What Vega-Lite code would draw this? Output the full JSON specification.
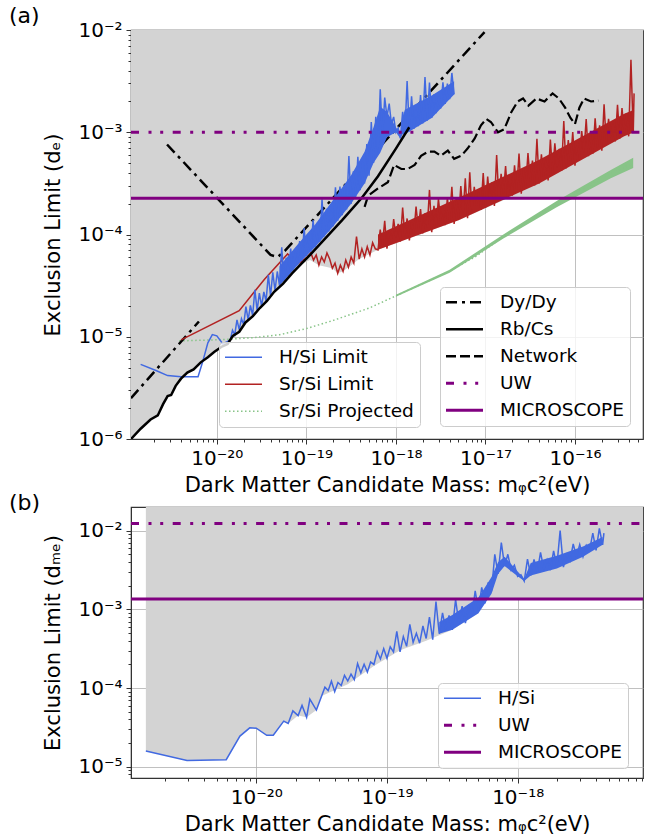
{
"$schema": "https://vega.github.io/schema/vega-lite/v6.json",
"padding": {"left": 8, "top": 4, "right": 2, "bottom": 0},
"spacing": -5,
"resolve": {"scale": {"x": "independent", "y": "independent", "color": "independent", "stroke": "independent"}, "legend": {"color": "independent", "stroke": "independent"}},
"config": {
  "font": "DejaVu Sans",
  "view": {"stroke": "#333333", "strokeWidth": 1.2},
  "axis": {"labelFont": "DejaVu Sans", "labelFontSize": 20, "labelColor": "#000000", "titleFont": "DejaVu Sans", "titleFontSize": 21, "titleFontWeight": "normal", "titleColor": "#000000", "tickColor": "#333333", "tickSize": 5, "domainColor": "#333333", "grid": true, "gridColor": "#b0b0b0", "gridWidth": 0.8, "zindex": 1, "labelPadding": 4},
  "legend": {"labelFont": "DejaVu Sans", "labelFontSize": 18.5, "labelColor": "#000000"},
  "title": {"font": "DejaVu Sans", "fontSize": 22, "fontWeight": "normal", "anchor": "start", "frame": "group", "offset": -8, "color": "#000000"}
},
"datasets": {
  "grayA": [{"x":1.1e-21,"y":1.0e-6},{"x":1.41e-21,"y":1.26e-6},{"x":1.82e-21,"y":1.55e-6},{"x":2.19e-21,"y":1.70e-6},{"x":2.51e-21,"y":2.19e-6},{"x":2.82e-21,"y":2.63e-6},{"x":3.09e-21,"y":2.69e-6},{"x":3.47e-21,"y":3.31e-6},{"x":3.98e-21,"y":3.89e-6},{"x":4.68e-21,"y":4.47e-6},{"x":5.50e-21,"y":4.79e-6},{"x":6.61e-21,"y":5.62e-6},{"x":7.94e-21,"y":6.31e-6},{"x":9.33e-21,"y":7.08e-6},{"x":1.12e-20,"y":7.94e-6},{"x":1.32e-20,"y":8.51e-6},{"x":1.51e-20,"y":1.02e-5},{"x":1.78e-20,"y":1.12e-5},{"x":2.09e-20,"y":1.38e-5},{"x":2.51e-20,"y":1.58e-5},{"x":3.02e-20,"y":1.91e-5},{"x":3.63e-20,"y":2.24e-5},{"x":4.37e-20,"y":2.75e-5},{"x":5.50e-20,"y":3.31e-5},{"x":6.92e-20,"y":4.17e-5},{"x":8.71e-20,"y":5.13e-5},{"x":1.096e-19,"y":5.623e-5},{"x":1.380e-19,"y":5.012e-5},{"x":1.950e-19,"y":4.677e-5},{"x":2.239e-19,"y":4.169e-5},{"x":2.570e-19,"y":4.365e-5},{"x":2.951e-19,"y":4.786e-5},{"x":3.890e-19,"y":5.754e-5},{"x":6.310e-19,"y":7.079e-5},{"x":5.012e-18,"y":1.380e-4},{"x":1.778e-17,"y":2.26e-4},{"x":5.75e-16,"y":2.26e-4}],
  "rbcs": [{"x":1.1e-21,"y":1.0e-6},{"x":1.41e-21,"y":1.26e-6},{"x":1.82e-21,"y":1.55e-6},{"x":2.19e-21,"y":1.70e-6},{"x":2.51e-21,"y":2.19e-6},{"x":2.82e-21,"y":2.63e-6},{"x":3.09e-21,"y":2.69e-6},{"x":3.47e-21,"y":3.31e-6},{"x":3.98e-21,"y":3.89e-6},{"x":4.68e-21,"y":4.47e-6},{"x":5.50e-21,"y":4.79e-6},{"x":6.61e-21,"y":5.62e-6},{"x":7.94e-21,"y":6.31e-6},{"x":9.33e-21,"y":7.08e-6},{"x":1.12e-20,"y":7.94e-6},{"x":1.32e-20,"y":8.51e-6},{"x":1.51e-20,"y":1.02e-5},{"x":1.78e-20,"y":1.12e-5},{"x":2.09e-20,"y":1.38e-5},{"x":2.51e-20,"y":1.58e-5},{"x":3.02e-20,"y":1.91e-5},{"x":3.63e-20,"y":2.24e-5},{"x":4.37e-20,"y":2.75e-5},{"x":5.50e-20,"y":3.31e-5},{"x":6.92e-20,"y":4.17e-5},{"x":8.71e-20,"y":5.13e-5},{"x":1.10e-19,"y":6.31e-5},{"x":1.58e-19,"y":8.91e-5},{"x":2.51e-19,"y":1.38e-4},{"x":4.17e-19,"y":2.29e-4},{"x":6.31e-19,"y":3.72e-4},{"x":1.0e-18,"y":6.92e-4},{"x":1.41e-18,"y":1.12e-3}],
  "dydy": [{"x":1.1e-21,"y":2.51e-6,"seg":1},{"x":6.31e-21,"y":1.41e-5,"seg":1},{"x":2.78e-21,"y":7.59e-4,"seg":2},{"x":3.98e-20,"y":6.31e-5,"seg":2},{"x":4.79e-20,"y":6.03e-5,"seg":2},{"x":5.75e-20,"y":6.92e-5,"seg":2},{"x":9.77e-18,"y":9.55e-3,"seg":2}],
  "network": [{"x":4.47e-19,"y":1.86e-4},{"x":4.90e-19,"y":2.40e-4},{"x":6.31e-19,"y":2.82e-4},{"x":8.13e-19,"y":3.24e-4},{"x":9.55e-19,"y":4.79e-4},{"x":1.15e-18,"y":4.37e-4},{"x":1.35e-18,"y":4.37e-4},{"x":1.62e-18,"y":4.79e-4},{"x":1.91e-18,"y":5.89e-4},{"x":2.29e-18,"y":6.46e-4},{"x":2.69e-18,"y":6.46e-4},{"x":3.16e-18,"y":5.89e-4},{"x":3.80e-18,"y":6.61e-4},{"x":4.47e-18,"y":5.50e-4},{"x":5.37e-18,"y":5.89e-4},{"x":6.31e-18,"y":6.92e-4},{"x":7.59e-18,"y":8.71e-4},{"x":8.91e-18,"y":1.17e-3},{"x":1.02e-17,"y":1.35e-3},{"x":1.15e-17,"y":1.26e-3},{"x":1.38e-17,"y":1.0e-3},{"x":1.62e-17,"y":1.07e-3},{"x":1.95e-17,"y":1.58e-3},{"x":2.29e-17,"y":2.0e-3},{"x":2.63e-17,"y":2.14e-3},{"x":3.02e-17,"y":1.82e-3},{"x":3.72e-17,"y":2.14e-3},{"x":4.57e-17,"y":2.0e-3},{"x":5.62e-17,"y":2.40e-3},{"x":6.61e-17,"y":2.14e-3},{"x":7.76e-17,"y":1.74e-3},{"x":8.91e-17,"y":1.38e-3},{"x":1.0e-16,"y":1.20e-3},{"x":1.12e-16,"y":1.74e-3},{"x":1.26e-16,"y":2.14e-3},{"x":1.51e-16,"y":2.0e-3},{"x":1.82e-16,"y":2.04e-3}],
  "green": [{"x":3.80e-21,"y":9.12e-6},{"x":1.0e-20,"y":9.33e-6},{"x":2.512e-20,"y":9.77e-6},{"x":5.012e-20,"y":1.047e-5},{"x":1.0e-19,"y":1.202e-5},{"x":1.995e-19,"y":1.445e-5},{"x":5.012e-19,"y":1.905e-5},{"x":1.0e-18,"y":2.512e-5},{"x":1.995e-18,"y":3.311e-5},{"x":3.981e-18,"y":4.365e-5},{"x":7.943e-18,"y":6.166e-5},{"x":1.585e-17,"y":9.55e-5},{"x":3.162e-17,"y":1.380e-4},{"x":6.310e-17,"y":1.995e-4},{"x":1.259e-16,"y":2.818e-4},{"x":2.512e-16,"y":3.890e-4},{"x":4.467e-16,"y":5.012e-4}],
  "greenBand": [{"x":1.0e-18,"y":2.455e-5,"y2":2.570e-5},{"x":3.981e-18,"y":4.217e-5,"y2":4.519e-5},{"x":1.585e-17,"y":9.120e-5,"y2":1.0e-4},{"x":6.310e-17,"y":1.862e-4,"y2":2.138e-4},{"x":2.512e-16,"y":3.548e-4,"y2":4.266e-4},{"x":4.467e-16,"y":4.467e-4,"y2":5.623e-4}],
  "hsiBandA": [{"x":5.012e-20,"y":3.162e-5,"y2":4.898e-5},{"x":7.943e-20,"y":5.012e-5,"y2":7.943e-5},{"x":1.259e-19,"y":7.586e-5,"y2":1.259e-4},{"x":1.995e-19,"y":1.202e-4,"y2":2.188e-4},{"x":3.162e-19,"y":1.995e-4,"y2":3.802e-4},{"x":4.467e-19,"y":3.162e-4,"y2":6.457e-4},{"x":5.623e-19,"y":5.012e-4,"y2":1.122e-3},{"x":6.683e-19,"y":6.310e-4,"y2":1.778e-3},{"x":7.943e-19,"y":8.913e-4,"y2":1.585e-3},{"x":1.0e-18,"y":1.0e-3,"y2":1.122e-3},{"x":1.122e-18,"y":8.71e-4,"y2":9.55e-4},{"x":1.189e-18,"y":9.55e-4,"y2":1.413e-3},{"x":1.259e-18,"y":9.55e-4,"y2":1.660e-3},{"x":2.512e-18,"y":1.380e-3,"y2":2.291e-3},{"x":4.467e-18,"y":2.344e-3,"y2":3.162e-3}],
  "srBand": [{"x":6.310e-19,"y":7.079e-5,"y2":1.0e-4},{"x":5.012e-18,"y":1.380e-4,"y2":2.291e-4},{"x":3.981e-17,"y":3.162e-4,"y2":5.370e-4},{"x":3.548e-16,"y":9.120e-4,"y2":1.514e-3},{"x":4.571e-16,"y":1.0e-3,"y2":1.660e-3}],
  "hsiA": [{"x":1.41e-21,"y":5.37e-6},{"x":2.09e-21,"y":4.68e-6},{"x":2.82e-21,"y":4.17e-6},{"x":3.98e-21,"y":4.07e-6},{"x":6.17e-21,"y":4.07e-6},{"x":6.92e-21,"y":5.62e-6},{"x":7.94e-21,"y":8.71e-6},{"x":8.91e-21,"y":1.05e-5},{"x":1.0e-20,"y":1.02e-5},{"x":1.17e-20,"y":8.51e-6},
    {"x":1.413e-20,"y":9.33e-6},{"x":1.496e-20,"y":1.161e-5},{"x":1.585e-20,"y":1.047e-5},{"x":1.679e-20,"y":1.462e-5},{"x":1.778e-20,"y":1.175e-5},{"x":1.884e-20,"y":1.500e-5},{"x":1.995e-20,"y":1.318e-5},{"x":2.113e-20,"y":1.968e-5},{"x":2.239e-20,"y":1.462e-5},{"x":2.371e-20,"y":2.023e-5},{"x":2.512e-20,"y":1.622e-5},{"x":2.661e-20,"y":2.884e-5},{"x":2.818e-20,"y":1.799e-5},{"x":2.985e-20,"y":2.667e-5},{"x":3.162e-20,"y":1.995e-5},{"x":3.350e-20,"y":2.748e-5},{"x":3.548e-20,"y":2.239e-5},{"x":3.758e-20,"y":4.027e-5},{"x":3.981e-20,"y":2.512e-5},{"x":4.217e-20,"y":4.276e-5},{"x":4.467e-20,"y":2.818e-5},{"x":4.732e-20,"y":4.35e-5},{"x":5.012e-20,"y":3.162e-5},{"x":5.309e-20,"y":7.499e-5},{"x":5.623e-20,"y":3.548e-5},{"x":5.957e-20,"y":5.902e-5},{"x":6.310e-20,"y":3.981e-5},{"x":6.683e-20,"y":7.295e-5},{"x":7.079e-20,"y":4.467e-5},{"x":7.499e-20,"y":6.745e-5},{"x":7.943e-20,"y":5.012e-5},{"x":8.414e-20,"y":8.63e-5},{"x":8.913e-20,"y":5.559e-5},{"x":9.441e-20,"y":1.155e-4},{"x":1.0e-19,"y":6.166e-5},{"x":1.059e-19,"y":9.55e-5},{"x":1.122e-19,"y":6.839e-5},{"x":1.189e-19,"y":1.384e-4},{"x":1.259e-19,"y":7.586e-5},{"x":1.334e-19,"y":1.318e-4},{"x":1.413e-19,"y":8.511e-5},{"x":1.496e-19,"y":2.213e-4},{"x":1.585e-19,"y":9.55e-5},{"x":1.679e-19,"y":1.782e-4},{"x":1.778e-19,"y":1.072e-4},{"x":1.884e-19,"y":1.726e-4},{"x":1.995e-19,"y":1.202e-4},{"x":2.113e-19,"y":2.897e-4},{"x":2.239e-19,"y":1.365e-4},{"x":2.371e-19,"y":2.938e-4},{"x":2.512e-19,"y":1.549e-4},{"x":2.661e-19,"y":2.825e-4},{"x":2.818e-19,"y":1.758e-4},{"x":2.985e-19,"y":5.861e-4},{"x":3.162e-19,"y":1.995e-4},{"x":3.350e-19,"y":4.159e-4},{"x":3.548e-19,"y":2.328e-4},{"x":3.758e-19,"y":5.768e-4},{"x":3.981e-19,"y":2.710e-4},{"x":4.217e-19,"y":5.129e-4},{"x":4.467e-19,"y":3.162e-4},{"x":4.732e-19,"y":7.674e-4},{"x":5.012e-19,"y":3.758e-4},{"x":5.309e-19,"y":1.259e-3},{"x":5.623e-19,"y":5.012e-4},{"x":5.957e-19,"y":1.413e-3},{"x":6.310e-19,"y":6.310e-4},{"x":6.683e-19,"y":2.630e-3},{"x":7.079e-19,"y":8.913e-4},{"x":7.499e-19,"y":2.188e-3},{"x":7.943e-19,"y":1.413e-3},{"x":8.414e-19,"y":1.905e-3},{"x":8.913e-19,"y":1.202e-3},{"x":9.441e-19,"y":1.413e-3},{"x":1.0e-18,"y":1.0e-3},{"x":1.059e-18,"y":1.096e-3},{"x":1.122e-18,"y":8.71e-4},{"x":1.189e-18,"y":1.585e-3},{"x":1.259e-18,"y":9.55e-4},{"x":1.334e-18,"y":3.162e-3},{"x":1.413e-18,"y":1.016e-3},{"x":1.496e-18,"y":2.249e-3},{"x":1.585e-18,"y":1.079e-3},{"x":1.679e-18,"y":1.687e-3},{"x":1.778e-18,"y":1.148e-3},{"x":1.884e-18,"y":2.312e-3},{"x":1.995e-18,"y":1.222e-3},{"x":2.113e-18,"y":3.467e-3},{"x":2.239e-18,"y":1.297e-3},{"x":2.371e-18,"y":3.062e-3},{"x":2.512e-18,"y":1.380e-3},{"x":2.661e-18,"y":2.350e-3},{"x":2.818e-18,"y":1.535e-3},{"x":2.985e-18,"y":2.213e-3},{"x":3.162e-18,"y":1.706e-3},{"x":3.350e-18,"y":3.076e-3},{"x":3.548e-18,"y":1.897e-3},{"x":3.758e-18,"y":2.992e-3},{"x":3.981e-18,"y":2.109e-3},{"x":4.217e-18,"y":3.802e-3},{"x":4.467e-18,"y":2.344e-3}],
  "srsi": [{"x":3.98e-21,"y":9.33e-6},{"x":1.778e-20,"y":1.80e-5},{"x":3.39e-20,"y":3.63e-5},{"x":6.17e-20,"y":6.46e-5},{"x":7.94e-20,"y":5.13e-5},{"x":9.55e-20,"y":5.75e-5},
    {"x":1.023e-19,"y":6.026e-5},{"x":1.122e-19,"y":6.607e-5},{"x":1.202e-19,"y":5.623e-5},{"x":1.288e-19,"y":6.310e-5},{"x":1.380e-19,"y":5.012e-5},{"x":1.479e-19,"y":6.026e-5},{"x":1.585e-19,"y":5.370e-5},{"x":1.698e-19,"y":6.607e-5},{"x":1.820e-19,"y":5.754e-5},{"x":1.950e-19,"y":4.677e-5},{"x":2.089e-19,"y":5.248e-5},{"x":2.239e-19,"y":4.169e-5},{"x":2.399e-19,"y":5.012e-5},{"x":2.570e-19,"y":4.365e-5},{"x":2.754e-19,"y":5.623e-5},{"x":2.951e-19,"y":4.786e-5},{"x":3.162e-19,"y":6.026e-5},{"x":3.388e-19,"y":5.248e-5},{"x":3.631e-19,"y":9.550e-5},{"x":3.890e-19,"y":5.754e-5},{"x":4.169e-19,"y":7.244e-5},{"x":4.467e-19,"y":6.026e-5},{"x":4.786e-19,"y":7.586e-5},{"x":5.129e-19,"y":6.310e-5},{"x":5.495e-19,"y":8.318e-5},{"x":5.888e-19,"y":7.244e-5},
    {"x":6.310e-19,"y":7.079e-5},{"x":6.683e-19,"y":1.117e-4},{"x":7.079e-19,"y":8.054e-5},{"x":7.499e-19,"y":1.358e-4},{"x":7.943e-19,"y":7.278e-5},{"x":8.414e-19,"y":1.089e-4},{"x":8.913e-19,"y":8.299e-5},{"x":9.441e-19,"y":1.416e-4},{"x":1.0e-18,"y":9.441e-5},{"x":1.059e-18,"y":1.268e-4},{"x":1.122e-18,"y":8.531e-5},{"x":1.189e-18,"y":1.837e-4},{"x":1.259e-18,"y":9.705e-5},{"x":1.334e-18,"y":1.435e-4},{"x":1.413e-18,"y":8.770e-5},{"x":1.496e-18,"y":1.315e-4},{"x":1.585e-18,"y":9.977e-5},{"x":1.679e-18,"y":1.879e-4},{"x":1.778e-18,"y":1.135e-4},{"x":1.884e-18,"y":1.774e-4},{"x":1.995e-18,"y":1.026e-4},{"x":2.113e-18,"y":1.611e-4},{"x":2.239e-18,"y":1.167e-4},{"x":2.371e-18,"y":2.729e-4},{"x":2.512e-18,"y":1.054e-4},{"x":2.661e-18,"y":1.905e-4},{"x":2.818e-18,"y":1.202e-4},{"x":2.985e-18,"y":2.239e-4},{"x":3.162e-18,"y":1.368e-4},{"x":3.350e-18,"y":1.862e-4},{"x":3.548e-18,"y":1.236e-4},{"x":3.758e-18,"y":2.280e-4},{"x":3.981e-18,"y":1.406e-4},{"x":4.217e-18,"y":2.931e-4},{"x":4.467e-18,"y":1.271e-4},{"x":4.732e-18,"y":2.128e-4},{"x":5.012e-18,"y":1.445e-4},{"x":5.309e-18,"y":2.985e-4},{"x":5.623e-18,"y":1.585e-4},{"x":5.957e-18,"y":3.548e-4},{"x":6.310e-18,"y":1.445e-4},{"x":6.683e-18,"y":4.064e-4},{"x":7.079e-18,"y":1.660e-4},{"x":7.499e-18,"y":2.924e-4},{"x":7.943e-18,"y":1.905e-4},{"x":8.414e-18,"y":2.588e-4},{"x":8.913e-18,"y":1.738e-4},{"x":9.441e-18,"y":3.990e-4},{"x":1.0e-17,"y":1.820e-4},{"x":1.059e-17,"y":3.690e-4},{"x":1.122e-17,"y":2.089e-4},{"x":1.189e-17,"y":3.258e-4},{"x":1.259e-17,"y":1.905e-4},{"x":1.334e-17,"y":5.992e-4},{"x":1.413e-17,"y":2.188e-4},{"x":1.496e-17,"y":3.917e-4},{"x":1.585e-17,"y":2.512e-4},{"x":1.679e-17,"y":4.677e-4},{"x":1.778e-17,"y":2.291e-4},{"x":1.884e-17,"y":3.784e-4},{"x":1.995e-17,"y":2.399e-4},{"x":2.113e-17,"y":4.742e-4},{"x":2.239e-17,"y":2.754e-4},{"x":2.371e-17,"y":6.194e-4},{"x":2.512e-17,"y":2.512e-4},{"x":2.661e-17,"y":4.375e-4},{"x":2.818e-17,"y":2.884e-4},{"x":2.985e-17,"y":6.266e-4},{"x":3.162e-17,"y":3.311e-4},{"x":3.350e-17,"y":5.272e-4},{"x":3.548e-17,"y":3.020e-4},{"x":3.758e-17,"y":8.650e-4},{"x":3.981e-17,"y":3.162e-4},{"x":4.217e-17,"y":6.081e-4},{"x":4.467e-17,"y":3.664e-4},{"x":4.732e-17,"y":5.370e-4},{"x":5.012e-17,"y":3.373e-4},{"x":5.309e-17,"y":8.472e-4},{"x":5.623e-17,"y":3.917e-4},{"x":5.957e-17,"y":7.798e-4},{"x":6.310e-17,"y":4.539e-4},{"x":6.683e-17,"y":6.902e-4},{"x":7.079e-17,"y":4.178e-4},{"x":7.499e-17,"y":1.288e-3},{"x":7.943e-17,"y":4.416e-4},{"x":8.414e-17,"y":8.375e-4},{"x":8.913e-17,"y":5.117e-4},{"x":9.441e-17,"y":1.007e-3},{"x":1.0e-16,"y":4.721e-4},{"x":1.059e-16,"y":8.185e-4},{"x":1.122e-16,"y":5.470e-4},{"x":1.189e-16,"y":1.026e-3},{"x":1.259e-16,"y":6.339e-4},{"x":1.334e-16,"y":1.343e-3},{"x":1.413e-16,"y":5.834e-4},{"x":1.496e-16,"y":9.616e-4},{"x":1.585e-16,"y":6.166e-4},{"x":1.679e-16,"y":1.368e-3},{"x":1.778e-16,"y":7.161e-4},{"x":1.884e-16,"y":1.167e-3},{"x":1.995e-16,"y":6.592e-4},{"x":2.113e-16,"y":1.875e-3},{"x":2.239e-16,"y":7.638e-4},{"x":2.371e-16,"y":1.352e-3},{"x":2.512e-16,"y":8.851e-4},{"x":2.661e-16,"y":1.208e-3},{"x":2.818e-16,"y":8.147e-4},{"x":2.985e-16,"y":1.854e-3},{"x":3.162e-16,"y":8.630e-4},{"x":3.350e-16,"y":1.726e-3},{"x":3.548e-16,"y":1.0e-3},{"x":3.758e-16,"y":1.538e-3},{"x":3.981e-16,"y":9.120e-4},{"x":4.217e-16,"y":5.129e-3},{"x":4.467e-16,"y":1.0e-3},{"x":4.571e-16,"y":2.399e-3}],
  "uwA": [{"x":1.1e-21,"y":1.0e-3},{"x":5.75e-16,"y":1.0e-3}],
  "micA": [{"x":1.1e-21,"y":2.26e-4},{"x":5.75e-16,"y":2.26e-4}],
  "grayB": [{"x":1.429e-21,"y":1.585e-5},{"x":2.951e-21,"y":1.202e-5},{"x":5.888e-21,"y":1.230e-5},{"x":7.499e-21,"y":2.455e-5},{"x":8.913e-21,"y":3.126e-5},{"x":1.0e-20,"y":3.090e-5},{"x":1.202e-20,"y":2.512e-5},{"x":1.349e-20,"y":2.512e-5},{"x":1.622e-20,"y":3.802e-5},{"x":1.754e-20,"y":3.548e-5},{"x":2.089e-20,"y":4.467e-5},{"x":2.427e-20,"y":4.266e-5},{"x":2.884e-20,"y":5.248e-5},{"x":3.162e-20,"y":7.943e-5},{"x":5.012e-20,"y":1.122e-4},{"x":7.943e-20,"y":1.905e-4},{"x":1.259e-19,"y":3.020e-4},{"x":1.995e-19,"y":3.981e-4},{"x":3.162e-19,"y":5.495e-4},{"x":5.012e-19,"y":8.913e-4},{"x":5.370e-19,"y":1.36e-3},{"x":9.1e-18,"y":1.36e-3}],
  "hsiBandB": [{"x":2.512e-19,"y":4.898e-4,"y2":6.918e-4},{"x":3.162e-19,"y":5.495e-4,"y2":8.511e-4},{"x":5.012e-19,"y":8.913e-4,"y2":1.413e-3},{"x":6.310e-19,"y":1.585e-3,"y2":2.570e-3},{"x":7.079e-19,"y":2.818e-3,"y2":3.981e-3},{"x":7.943e-19,"y":3.548e-3,"y2":4.677e-3},{"x":1.0e-18,"y":2.630e-3,"y2":3.020e-3},{"x":1.122e-18,"y":2.291e-3,"y2":2.455e-3},{"x":1.259e-18,"y":2.692e-3,"y2":3.890e-3},{"x":1.995e-18,"y":3.311e-3,"y2":4.786e-3},{"x":3.162e-18,"y":4.677e-3,"y2":6.310e-3},{"x":4.467e-18,"y":6.607e-3,"y2":8.318e-3}],
  "hsiB": [{"x":1.429e-21,"y":1.585e-5},{"x":2.951e-21,"y":1.202e-5},{"x":5.888e-21,"y":1.230e-5},{"x":7.499e-21,"y":2.455e-5},{"x":8.913e-21,"y":3.126e-5},{"x":1.0e-20,"y":3.090e-5},{"x":1.202e-20,"y":2.512e-5},{"x":1.349e-20,"y":2.512e-5},{"x":1.622e-20,"y":3.802e-5},{"x":1.754e-20,"y":3.548e-5},{"x":1.905e-20,"y":5.129e-5},{"x":2.089e-20,"y":4.467e-5},{"x":2.239e-20,"y":6.026e-5},{"x":2.427e-20,"y":4.266e-5},{"x":2.570e-20,"y":7.244e-5},{"x":2.884e-20,"y":5.248e-5},
    {"x":3.162e-20,"y":7.943e-5},{"x":3.350e-20,"y":1.028e-4},{"x":3.548e-20,"y":9.279e-5},{"x":3.758e-20,"y":1.223e-4},{"x":3.981e-20,"y":9.016e-5},{"x":4.217e-20,"y":1.175e-4},{"x":4.467e-20,"y":1.078e-4},{"x":4.732e-20,"y":1.455e-4},{"x":5.012e-20,"y":1.230e-4},{"x":5.309e-20,"y":1.503e-4},{"x":5.623e-20,"y":1.281e-4},{"x":5.957e-20,"y":2.056e-4},{"x":6.310e-20,"y":1.567e-4},{"x":6.683e-20,"y":2.009e-4},{"x":7.079e-20,"y":1.594e-4},{"x":7.499e-20,"y":2.143e-4},{"x":7.943e-20,"y":1.995e-4},{"x":8.414e-20,"y":2.911e-4},{"x":8.913e-20,"y":2.344e-4},{"x":9.441e-20,"y":3.170e-4},{"x":1.0e-19,"y":2.399e-4},{"x":1.059e-19,"y":3.339e-4},{"x":1.122e-19,"y":2.884e-4},{"x":1.189e-19,"y":5.260e-4},{"x":1.259e-19,"y":2.884e-4},{"x":1.334e-19,"y":4.508e-4},{"x":1.413e-19,"y":3.388e-4},{"x":1.496e-19,"y":6.457e-4},{"x":1.585e-19,"y":3.802e-4},{"x":1.679e-19,"y":4.977e-4},{"x":1.778e-19,"y":3.715e-4},{"x":1.884e-19,"y":6.152e-4},{"x":1.995e-19,"y":4.266e-4},{"x":2.113e-19,"y":7.962e-4},{"x":2.239e-19,"y":4.121e-4},{"x":2.371e-19,"y":1.259e-3},{"x":2.512e-19,"y":4.898e-4},{"x":2.661e-19,"y":9.036e-4},{"x":2.818e-19,"y":5.559e-4},{"x":2.985e-19,"y":8.356e-4},{"x":3.162e-19,"y":5.495e-4},{"x":3.350e-19,"y":1.337e-3},{"x":3.548e-19,"y":6.645e-4},{"x":3.758e-19,"y":1.099e-3},{"x":3.981e-19,"y":6.683e-4},{"x":4.217e-19,"y":1.079e-3},{"x":4.467e-19,"y":8.270e-4},{"x":4.732e-19,"y":1.718e-3},{"x":5.012e-19,"y":9.772e-4},{"x":5.309e-19,"y":1.908e-3},{"x":5.623e-19,"y":1.189e-3},{"x":5.957e-19,"y":2.211e-3},{"x":6.310e-19,"y":1.698e-3},{"x":6.683e-19,"y":5.012e-3},{"x":7.079e-19,"y":2.818e-3},{"x":7.499e-19,"y":7.079e-3},{"x":7.943e-19,"y":3.548e-3},{"x":8.414e-19,"y":5.012e-3},{"x":8.913e-19,"y":3.162e-3},{"x":9.441e-19,"y":3.631e-3},{"x":1.0e-18,"y":2.630e-3},{"x":1.059e-18,"y":2.754e-3},{"x":1.122e-18,"y":2.291e-3},{"x":1.189e-18,"y":4.365e-3},{"x":1.259e-18,"y":2.692e-3},{"x":1.334e-18,"y":4.325e-3},{"x":1.413e-18,"y":2.968e-3},{"x":1.496e-18,"y":5.297e-3},{"x":1.585e-18,"y":3.273e-3},{"x":1.679e-18,"y":4.256e-3},{"x":1.778e-18,"y":3.144e-3},{"x":1.884e-18,"y":5.534e-3},{"x":1.995e-18,"y":3.548e-3},{"x":2.113e-18,"y":1.0e-2},{"x":2.239e-18,"y":3.447e-3},{"x":2.371e-18,"y":4.977e-3},{"x":2.512e-18,"y":4.121e-3},{"x":2.661e-18,"y":6.776e-3},{"x":2.818e-18,"y":4.704e-3},{"x":2.985e-18,"y":6.668e-3},{"x":3.162e-18,"y":4.677e-3},{"x":3.350e-18,"y":6.531e-3},{"x":3.548e-18,"y":5.623e-3},{"x":3.758e-18,"y":9.333e-3},{"x":3.981e-18,"y":5.623e-3},{"x":4.217e-18,"y":1.072e-2},{"x":4.467e-18,"y":6.607e-3},{"x":4.571e-18,"y":9.333e-3}],
  "uwB": [{"x":1.1e-21,"y":1.23e-2},{"x":9.1e-18,"y":1.23e-2}],
  "micB": [{"x":1.1e-21,"y":1.36e-3},{"x":9.1e-18,"y":1.36e-3}],
  "anchor": [{"x":1e-19,"y":1e-4}]
},
"vconcat": [
  {
    "width": 512, "height": 409,
    "title": {"text": "(a)", "dx": -122},
    "resolve": {"scale": {"x": "independent", "y": "independent"}},
    "layer": [
      {
        "encoding": {
          "x": {"field": "x", "type": "quantitative", "scale": {"type": "log", "domain": [1.1e-21, 5.75e-16], "nice": false}, "axis": {"orient": "bottom", "values": [1e-20, 1e-19, 1e-18, 1e-17, 1e-16], "labelExpr": "'10⁻' + (abs(round(log(datum.value)/LN10)) >= 10 ? substring('⁰¹²³⁴⁵⁶⁷⁸⁹', floor(abs(round(log(datum.value)/LN10))/10), floor(abs(round(log(datum.value)/LN10))/10) + 1) : '') + substring('⁰¹²³⁴⁵⁶⁷⁸⁹', abs(round(log(datum.value)/LN10)) % 10, abs(round(log(datum.value)/LN10)) % 10 + 1)", "titlePadding": 6}, "title": "Dark Matter Candidate Mass: mᵩc²(eV)"},
          "y": {"field": "y", "type": "quantitative", "scale": {"type": "log", "domain": [1e-6, 1e-2], "nice": false}, "axis": {"orient": "left", "values": [1e-6, 1e-5, 1e-4, 1e-3, 1e-2], "labelExpr": "'10⁻' + (abs(round(log(datum.value)/LN10)) >= 10 ? substring('⁰¹²³⁴⁵⁶⁷⁸⁹', floor(abs(round(log(datum.value)/LN10))/10), floor(abs(round(log(datum.value)/LN10))/10) + 1) : '') + substring('⁰¹²³⁴⁵⁶⁷⁸⁹', abs(round(log(datum.value)/LN10)) % 10, abs(round(log(datum.value)/LN10)) % 10 + 1)", "titlePadding": 14}, "title": "Exclusion Limit (dₑ)"}
        },
        "layer": [
          {"data": {"name": "grayA"}, "mark": {"type": "area", "color": "#d3d3d3", "clip": true}, "encoding": {"y2": {"datum": 0.01}}},
          {"data": {"name": "greenBand"}, "mark": {"type": "area", "color": "#88c488", "clip": true}, "encoding": {"y2": {"field": "y2"}}},
          {"data": {"name": "green"}, "mark": {"type": "line", "strokeWidth": 1.5, "strokeDash": [1.5, 2.5], "clip": true},
           "encoding": {"color": {"datum": "Sr/Si Projected", "type": "nominal", "scale": {"domain": ["H/Si Limit", "Sr/Si Limit", "Sr/Si Projected"], "range": ["#4169e1", "#b22222", "#88c488"]}}}},
          {"data": {"name": "dydy"}, "mark": {"type": "line", "strokeWidth": 2.5, "strokeDash": [11, 5, 3, 5], "clip": true},
           "encoding": {"detail": {"field": "seg", "type": "nominal"}, "stroke": {"datum": "Dy/Dy", "type": "nominal", "scale": {"domain": ["Dy/Dy", "Rb/Cs", "Network", "UW", "MICROSCOPE"], "range": ["#000000", "#000000", "#000000", "#800080", "#800080"]}}}},
          {"data": {"name": "srBand"}, "mark": {"type": "area", "color": "#b22222", "clip": true}, "encoding": {"y2": {"field": "y2"}}},
          {"data": {"name": "srsi"}, "mark": {"type": "line", "strokeWidth": 1.5, "clip": true},
           "encoding": {"color": {"datum": "Sr/Si Limit", "type": "nominal"}}},
          {"data": {"name": "hsiBandA"}, "mark": {"type": "area", "color": "#4169e1", "clip": true}, "encoding": {"y2": {"field": "y2"}}},
          {"data": {"name": "hsiA"}, "mark": {"type": "line", "strokeWidth": 1.5, "clip": true},
           "encoding": {"color": {"datum": "H/Si Limit", "type": "nominal", "legend": {"orient": "none", "legendX": 88, "legendY": 312, "title": null, "symbolType": "M-1.85,0H5.55", "symbolSize": 100, "symbolStrokeWidth": 1.5, "rowPadding": 8, "padding": 6, "labelOffset": 35.5, "fillColor": "rgba(255,255,255,0.8)", "strokeColor": "#cccccc", "cornerRadius": 4, "encode": {"symbols": {"update": {"strokeDash": {"signal": "datum.value === 'Sr/Si Projected' ? [1.5,2.5] : []"}}}}}}}},
          {"data": {"name": "rbcs"}, "mark": {"type": "line", "strokeWidth": 2.5, "clip": true},
           "encoding": {"stroke": {"datum": "Rb/Cs", "type": "nominal", "legend": {"orient": "none", "legendX": 309, "legendY": 257, "title": null, "symbolType": "M-1.85,0H5.55", "symbolSize": 100, "symbolStrokeWidth": 2.5, "rowPadding": 8, "padding": 6, "labelOffset": 35.5, "fillColor": "rgba(255,255,255,0.8)", "strokeColor": "#cccccc", "cornerRadius": 4, "encode": {"symbols": {"update": {"strokeDash": {"signal": "datum.value === 'Dy/Dy' ? [11,5,3,5] : datum.value === 'Network' ? [10,4] : datum.value === 'UW' ? [8,9.5,3,8.7,3,9.5] : []"}, "strokeWidth": {"signal": "datum.value === 'UW' || datum.value === 'MICROSCOPE' ? 3 : 2.5"}}}}}}}},
          {"data": {"name": "network"}, "mark": {"type": "line", "strokeWidth": 2.2, "strokeDash": [10, 4], "clip": true},
           "encoding": {"stroke": {"datum": "Network", "type": "nominal"}}},
          {"data": {"name": "uwA"}, "mark": {"type": "line", "strokeWidth": 3, "strokeDash": [8, 9.5, 3, 8.7, 3, 9.5], "clip": true},
           "encoding": {"stroke": {"datum": "UW", "type": "nominal"}}},
          {"data": {"name": "micA"}, "mark": {"type": "line", "strokeWidth": 3, "clip": true},
           "encoding": {"stroke": {"datum": "MICROSCOPE", "type": "nominal"}}}
        ]
      },
      {
        "data": {"name": "anchor"},
        "mark": {"type": "point", "opacity": 0},
        "encoding": {
          "x": {"field": "x", "type": "quantitative", "scale": {"type": "log", "domain": [1.1e-21, 5.75e-16], "nice": false}, "axis": {"orient": "bottom", "values": [2e-21,3e-21,4e-21,5e-21,6e-21,7e-21,8e-21,9e-21,2e-20,3e-20,4e-20,5e-20,6e-20,7e-20,8e-20,9e-20,2e-19,3e-19,4e-19,5e-19,6e-19,7e-19,8e-19,9e-19,2e-18,3e-18,4e-18,5e-18,6e-18,7e-18,8e-18,9e-18,2e-17,3e-17,4e-17,5e-17,6e-17,7e-17,8e-17,9e-17,2e-16,3e-16,4e-16,5e-16], "labels": false, "grid": false, "domain": false, "tickSize": 3, "title": null}},
          "y": {"field": "y", "type": "quantitative", "scale": {"type": "log", "domain": [1e-6, 1e-2], "nice": false}, "axis": {"orient": "left", "values": [2e-6,3e-6,4e-6,5e-6,6e-6,7e-6,8e-6,9e-6,2e-5,3e-5,4e-5,5e-5,6e-5,7e-5,8e-5,9e-5,2e-4,3e-4,4e-4,5e-4,6e-4,7e-4,8e-4,9e-4,2e-3,3e-3,4e-3,5e-3,6e-3,7e-3,8e-3,9e-3], "labels": false, "grid": false, "domain": false, "tickSize": 3, "title": null}}
        }
      }
    ]
  },
  {
    "width": 512, "height": 271,
    "title": {"text": "(b)", "dx": -122},
    "resolve": {"scale": {"x": "independent", "y": "independent"}},
    "layer": [
      {
        "encoding": {
          "x": {"field": "x", "type": "quantitative", "scale": {"type": "log", "domain": [1.1e-21, 9.1e-18], "nice": false}, "axis": {"orient": "bottom", "values": [1e-20, 1e-19, 1e-18], "labelExpr": "'10⁻' + (abs(round(log(datum.value)/LN10)) >= 10 ? substring('⁰¹²³⁴⁵⁶⁷⁸⁹', floor(abs(round(log(datum.value)/LN10))/10), floor(abs(round(log(datum.value)/LN10))/10) + 1) : '') + substring('⁰¹²³⁴⁵⁶⁷⁸⁹', abs(round(log(datum.value)/LN10)) % 10, abs(round(log(datum.value)/LN10)) % 10 + 1)", "titlePadding": 6}, "title": "Dark Matter Candidate Mass: mᵩc²(eV)"},
          "y": {"field": "y", "type": "quantitative", "scale": {"type": "log", "domain": [7.2e-6, 2.0e-2], "nice": false}, "axis": {"orient": "left", "values": [1e-5, 1e-4, 1e-3, 1e-2], "labelExpr": "'10⁻' + (abs(round(log(datum.value)/LN10)) >= 10 ? substring('⁰¹²³⁴⁵⁶⁷⁸⁹', floor(abs(round(log(datum.value)/LN10))/10), floor(abs(round(log(datum.value)/LN10))/10) + 1) : '') + substring('⁰¹²³⁴⁵⁶⁷⁸⁹', abs(round(log(datum.value)/LN10)) % 10, abs(round(log(datum.value)/LN10)) % 10 + 1)", "titlePadding": 14}, "title": "Exclusion Limit (dₘₑ)"}
        },
        "layer": [
          {"data": {"name": "grayB"}, "mark": {"type": "area", "color": "#d3d3d3", "clip": true}, "encoding": {"y2": {"datum": 0.02}}},
          {"data": {"name": "hsiBandB"}, "mark": {"type": "area", "color": "#4169e1", "clip": true}, "encoding": {"y2": {"field": "y2"}}},
          {"data": {"name": "hsiB"}, "mark": {"type": "line", "strokeWidth": 1.5, "clip": true},
           "encoding": {"stroke": {"datum": "H/Si", "type": "nominal", "scale": {"domain": ["H/Si", "UW", "MICROSCOPE"], "range": ["#4169e1", "#800080", "#800080"]}, "legend": {"orient": "none", "legendX": 307, "legendY": 176, "title": null, "symbolType": "M-1.85,0H5.55", "symbolSize": 100, "symbolStrokeWidth": 2, "rowPadding": 8, "padding": 6, "labelOffset": 35.5, "fillColor": "rgba(255,255,255,0.8)", "strokeColor": "#cccccc", "cornerRadius": 4, "encode": {"symbols": {"update": {"strokeDash": {"signal": "datum.value === 'UW' ? [8,9.5,3,8.7,3,9.5] : []"}, "strokeWidth": {"signal": "datum.value === 'H/Si' ? 1.5 : 3"}}}}}}}},
          {"data": {"name": "uwB"}, "mark": {"type": "line", "strokeWidth": 3, "strokeDash": [8, 9.5, 3, 8.7, 3, 9.5], "clip": true},
           "encoding": {"stroke": {"datum": "UW", "type": "nominal"}}},
          {"data": {"name": "micB"}, "mark": {"type": "line", "strokeWidth": 3, "clip": true},
           "encoding": {"stroke": {"datum": "MICROSCOPE", "type": "nominal"}}}
        ]
      },
      {
        "data": {"name": "anchor"},
        "mark": {"type": "point", "opacity": 0},
        "encoding": {
          "x": {"field": "x", "type": "quantitative", "scale": {"type": "log", "domain": [1.1e-21, 9.1e-18], "nice": false}, "axis": {"orient": "bottom", "values": [2e-21,3e-21,4e-21,5e-21,6e-21,7e-21,8e-21,9e-21,2e-20,3e-20,4e-20,5e-20,6e-20,7e-20,8e-20,9e-20,2e-19,3e-19,4e-19,5e-19,6e-19,7e-19,8e-19,9e-19,2e-18,3e-18,4e-18,5e-18,6e-18,7e-18,8e-18,9e-18], "labels": false, "grid": false, "domain": false, "tickSize": 3, "title": null}},
          "y": {"field": "y", "type": "quantitative", "scale": {"type": "log", "domain": [7.2e-6, 2.0e-2], "nice": false}, "axis": {"orient": "left", "values": [8e-6,9e-6,2e-5,3e-5,4e-5,5e-5,6e-5,7e-5,8e-5,9e-5,2e-4,3e-4,4e-4,5e-4,6e-4,7e-4,8e-4,9e-4,2e-3,3e-3,4e-3,5e-3,6e-3,7e-3,8e-3,9e-3], "labels": false, "grid": false, "domain": false, "tickSize": 3, "title": null}}
        }
      }
    ]
  }
]
}
